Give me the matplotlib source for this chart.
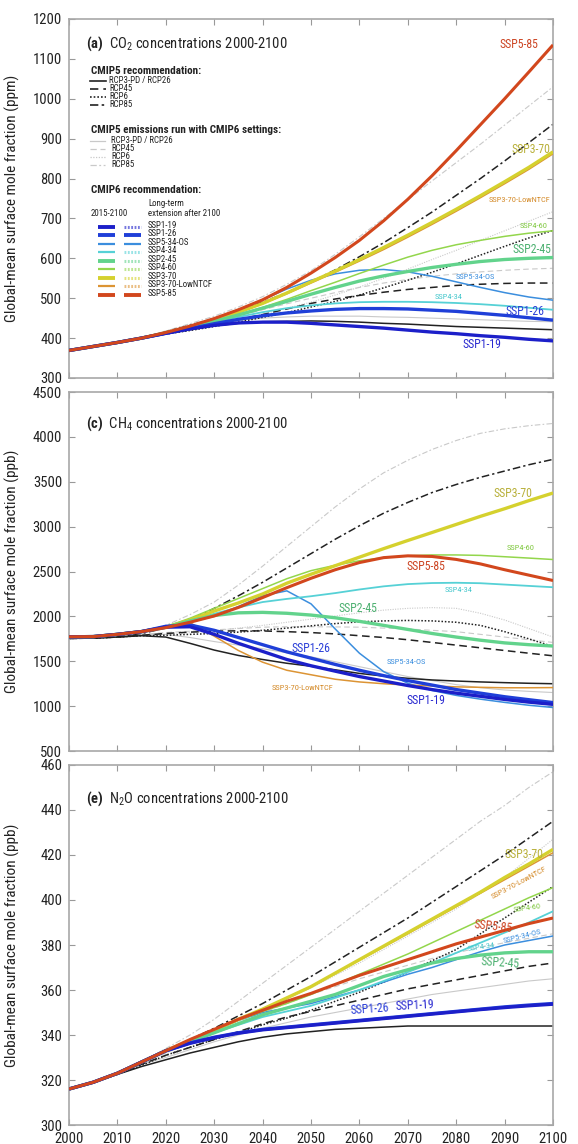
import os

import matplotlib
matplotlib.use("Agg")
from matplotlib import pyplot as plt
from matplotlib import font_manager
from matplotlib.lines import Line2D

# ---------------------------------------------------------------- data
years = [2000, 2005, 2010, 2015, 2020, 2025, 2030, 2035, 2040, 2045, 2050,
         2055, 2060, 2065, 2070, 2075, 2080, 2085, 2090, 2095, 2100]

# CO2 (ppm)
co2_ssp119 = [369, 379, 389, 400, 412, 423, 432, 438, 440, 440, 437, 433, 429, 425, 420, 415, 411, 406, 402, 397, 393]
co2_ssp126 = [369, 379, 389, 400, 412, 424, 436, 447, 456, 463, 468, 472, 474, 474, 473, 470, 467, 462, 457, 451, 445]
co2_ssp534 = [369, 379, 389, 400, 414, 430, 449, 471, 496, 523, 545, 561, 570, 572, 566, 555, 541, 527, 514, 503, 495]
co2_ssp434 = [369, 379, 389, 400, 413, 426, 440, 453, 465, 475, 482, 487, 490, 491, 491, 490, 488, 485, 481, 476, 471]
co2_ssp245 = [369, 379, 389, 400, 413, 427, 442, 458, 475, 492, 510, 527, 543, 556, 567, 577, 585, 592, 597, 600, 602]
co2_ssp460 = [369, 379, 389, 400, 413, 427, 442, 459, 477, 497, 519, 540, 562, 583, 603, 620, 634, 645, 655, 663, 669]
co2_ssp370 = [369, 379, 389, 400, 413, 428, 445, 465, 487, 513, 541, 568, 597, 627, 658, 690, 723, 757, 792, 828, 867]
co2_ssp370low = [369, 379, 389, 400, 413, 428, 445, 464, 486, 511, 538, 565, 593, 622, 653, 685, 718, 752, 787, 823, 862]
co2_ssp585 = [369, 379, 389, 400, 414, 430, 449, 471, 496, 527, 563, 602, 645, 694, 748, 807, 870, 935, 1000, 1067, 1135]
co2_rcp26 = [369, 378, 389, 399, 411, 421, 431, 437, 441, 442, 443, 442, 440, 437, 435, 432, 429, 427, 425, 423, 421]
co2_rcp45 = [369, 378, 389, 400, 412, 423, 435, 447, 459, 473, 487, 498, 507, 515, 522, 527, 532, 535, 537, 538, 538]
co2_rcp60 = [369, 378, 389, 399, 410, 419, 429, 440, 452, 464, 478, 492, 508, 526, 545, 565, 586, 608, 630, 651, 670]
co2_rcp85 = [369, 378, 389, 400, 416, 432, 449, 469, 490, 514, 541, 571, 604, 639, 677, 716, 758, 800, 844, 890, 936]
co2_rcp26g = [369, 378, 389, 400, 412, 424, 435, 444, 450, 453, 455, 455, 455, 453, 452, 450, 448, 446, 444, 442, 441]
co2_rcp45g = [369, 378, 389, 400, 413, 427, 441, 456, 471, 486, 500, 514, 527, 538, 547, 555, 561, 566, 570, 573, 575]
co2_rcp60g = [369, 378, 389, 400, 411, 421, 433, 446, 460, 475, 490, 508, 528, 550, 573, 597, 620, 645, 669, 693, 717]
co2_rcp85g = [369, 378, 389, 400, 418, 436, 455, 478, 504, 535, 569, 610, 654, 700, 747, 794, 840, 886, 934, 982, 1030]

# CH4 (ppb)
ch4_ssp119 = [1773, 1775, 1800, 1831, 1880, 1885, 1800, 1700, 1610, 1520, 1450, 1390, 1330, 1280, 1230, 1185, 1145, 1110, 1075, 1045, 1020]
ch4_ssp126 = [1773, 1775, 1800, 1831, 1890, 1905, 1845, 1765, 1685, 1605, 1535, 1465, 1400, 1340, 1285, 1235, 1185, 1145, 1105, 1072, 1040]
ch4_ssp534 = [1773, 1775, 1800, 1831, 1875, 1935, 2005, 2110, 2230, 2285, 2140, 1860, 1590, 1385, 1255, 1175, 1120, 1078, 1042, 1010, 985]
ch4_ssp434 = [1773, 1775, 1800, 1831, 1880, 1950, 2030, 2100, 2160, 2195, 2225, 2260, 2300, 2335, 2360, 2372, 2375, 2370, 2355, 2340, 2325]
ch4_ssp245 = [1773, 1775, 1800, 1831, 1880, 1950, 2010, 2040, 2045, 2035, 2015, 1985, 1945, 1900, 1855, 1810, 1770, 1735, 1705, 1685, 1670]
ch4_ssp460 = [1773, 1775, 1800, 1831, 1885, 1980, 2090, 2200, 2310, 2420, 2510, 2570, 2620, 2655, 2675, 2685, 2685, 2680, 2665, 2650, 2634]
ch4_ssp370 = [1773, 1775, 1800, 1831, 1880, 1960, 2060, 2150, 2250, 2370, 2470, 2565, 2660, 2755, 2846, 2935, 3025, 3115, 3200, 3290, 3375]
ch4_ssp370low = [1773, 1775, 1800, 1831, 1880, 1930, 1780, 1620, 1490, 1400, 1350, 1300, 1270, 1250, 1235, 1225, 1215, 1210, 1205, 1205, 1207]
ch4_ssp585 = [1773, 1775, 1800, 1831, 1875, 1935, 2005, 2100, 2210, 2320, 2425, 2520, 2600, 2655, 2675, 2668, 2635, 2585, 2520, 2460, 2400]
ch4_rcp26 = [1755, 1758, 1770, 1785, 1770, 1700, 1625, 1565, 1520, 1478, 1445, 1405, 1365, 1335, 1310, 1292, 1280, 1270, 1262, 1255, 1250]
ch4_rcp45 = [1755, 1758, 1770, 1790, 1810, 1825, 1835, 1840, 1838, 1830, 1820, 1805, 1785, 1765, 1740, 1710, 1680, 1650, 1620, 1590, 1561]
ch4_rcp60 = [1755, 1758, 1770, 1785, 1790, 1800, 1810, 1825, 1845, 1870, 1895, 1920, 1940, 1950, 1955, 1950, 1935, 1900, 1830, 1750, 1665]
ch4_rcp85 = [1755, 1758, 1775, 1810, 1870, 1960, 2090, 2230, 2380, 2540, 2700, 2860, 3010, 3150, 3270, 3380, 3470, 3550, 3620, 3690, 3750]
ch4_rcp26g = [1755, 1758, 1775, 1795, 1800, 1765, 1720, 1680, 1640, 1595, 1550, 1495, 1440, 1385, 1330, 1285, 1240, 1205, 1180, 1165, 1152]
ch4_rcp45g = [1755, 1758, 1775, 1800, 1820, 1835, 1850, 1865, 1880, 1885, 1885, 1883, 1880, 1870, 1860, 1845, 1830, 1800, 1770, 1740, 1710]
ch4_rcp60g = [1755, 1758, 1775, 1795, 1800, 1820, 1840, 1870, 1900, 1935, 1970, 2005, 2040, 2070, 2090, 2098, 2090, 2035, 1960, 1865, 1770]
ch4_rcp85g = [1755, 1758, 1780, 1820, 1900, 2020, 2160, 2350, 2560, 2780, 3000, 3220, 3420, 3600, 3740, 3860, 3960, 4040, 4090, 4125, 4150]

# N2O (ppb)
n2o_ssp119 = [316, 319, 323, 328, 333, 336.3, 338.8, 340.8, 342.3, 343.3, 344.3, 345.3, 346.3, 347.3, 348.3, 349.3, 350.3, 351.3, 352.2, 353, 353.7]
n2o_ssp126 = [316, 319, 323, 328, 333, 336.5, 339, 341, 342.5, 343.5, 344.5, 345.5, 346.5, 347.5, 348.5, 349.5, 350.5, 351.5, 352.5, 353.3, 354]
n2o_ssp534 = [316, 319, 323, 328, 333, 337.5, 342, 346.5, 350, 352, 354, 357, 360, 363.5, 367, 370, 373.5, 377, 380, 382, 384]
n2o_ssp434 = [316, 319, 323, 328, 333, 337, 341, 344.5, 348, 350.5, 353, 356.5, 360, 364, 368, 372, 376.5, 381, 385.5, 390, 395]
n2o_ssp245 = [316, 319, 323, 328, 333, 337, 341, 345, 349, 352, 355, 358, 362, 366, 369, 372, 374, 375.5, 376.5, 377, 377]
n2o_ssp460 = [316, 319, 323, 328, 333, 337.5, 342, 346.5, 350.5, 354, 358, 362.5, 367, 371.5, 376, 381, 386, 391, 396, 401, 405.5]
n2o_ssp370 = [316, 319, 323, 328, 333, 337.5, 342, 347, 351.5, 356.5, 361.5, 367.5, 373.5, 379.5, 385.5, 391.5, 397.5, 403.5, 410, 416, 422.5]
n2o_ssp370low = [316, 319, 323, 328, 333, 337.5, 342, 347, 351.5, 356.5, 361.5, 367.3, 373.2, 379.1, 385, 391, 397, 403, 409, 415, 421]
n2o_ssp585 = [316, 319, 323, 328, 333, 338, 342.5, 347, 351, 355, 358.5, 362.5, 366.5, 370, 373.5, 377, 380.5, 383.5, 386.5, 389.5, 392]
n2o_rcp26 = [316, 319, 322.5, 326, 329, 332, 334.5, 337, 339, 340.5, 341.5, 342.5, 343, 343.5, 344, 344, 344, 344, 344, 344, 344]
n2o_rcp45 = [316, 319, 322.5, 327, 331, 334.5, 338, 341.5, 345, 348, 350.5, 353, 355.5, 358, 360.5, 362.5, 364.5, 366.5, 368.5, 370.5, 372]
n2o_rcp60 = [316, 319, 322.5, 326.5, 331, 334.5, 338, 341, 344.5, 347.5, 351, 355, 359, 363.5, 368, 373, 378, 385, 392, 399, 406]
n2o_rcp85 = [316, 319, 323, 327.5, 333, 338, 343, 348.5, 354, 360, 366, 372.5, 379, 385.5, 392, 399, 406, 413, 420, 427.5, 435]
n2o_rcp26g = [316, 319, 323, 327, 330, 333.5, 337, 340, 343, 345.5, 348, 350, 352, 354, 356, 358, 359.5, 361, 362.5, 364, 365]
n2o_rcp45g = [316, 319, 323, 327.5, 332, 336.5, 341, 345.5, 350, 354, 358, 361.5, 365, 368, 371, 374, 376.5, 379, 381, 383, 385]
n2o_rcp60g = [316, 319, 323, 327.5, 332, 336.5, 341, 346, 351, 356, 361, 366.5, 372, 378, 384, 390, 396, 403, 410, 418.5, 427]
n2o_rcp85g = [316, 319, 323, 328, 334, 340, 347, 355, 363, 371, 379, 387, 395, 403, 411, 419, 427, 435, 442, 450, 457]

ssp_names = ["SSP1-19", "SSP1-26", "SSP5-34-OS", "SSP4-34", "SSP2-45",
             "SSP4-60", "SSP3-70", "SSP3-70-LowNTCF", "SSP5-85"]
rcp_names = ["RCP3-PD / RCP26", "RCP45", "RCP6", "RCP85"]


# ---------------------------------------------------------------- font
def pick_narrow_font():
    prefs = ["Liberation Sans Narrow", "Roboto Condensed", "Open Sans Condensed",
             "DejaVu Sans Condensed", "Noto Sans Condensed"]
    fonts = font_manager.fontManager.ttflist
    names = {f.name for f in fonts}
    for n in prefs:
        if n in names:
            return n, "normal"
    for f in fonts:
        fn = os.path.basename(f.fname).lower()
        if ("condensed" in fn or "narrow" in fn) and "serif" not in fn \
                and "mono" not in fn and "semi" not in fn and "extra" not in fn \
                and f.style == "normal" and f.weight in (400, "normal", "regular"):
            return f.name, f.stretch
    return None, None


font, stretch = pick_narrow_font()
scale = 1.0
if font is None:
    font, stretch, scale = "Liberation Sans", "normal", 0.86
plt.rcParams["font.family"] = font
plt.rcParams["font.stretch"] = stretch
plt.rcParams["mathtext.fontset"] = "custom"
plt.rcParams["mathtext.rm"] = font
plt.rcParams["mathtext.bf"] = font + ":bold"


def fs(v):
    return v * scale


# ---------------------------------------------------------------- styles
ssp_style = {
    "SSP1-19": ("#1c1fc9", 2.4),
    "SSP1-26": ("#1f3fd8", 2.4),
    "SSP5-34-OS": ("#3b8ede", 1.1),
    "SSP4-34": ("#56d1d6", 1.3),
    "SSP2-45": ("#62d38c", 2.4),
    "SSP4-60": ("#93d64c", 1.1),
    "SSP3-70": ("#d5d12e", 2.4),
    "SSP3-70-LowNTCF": ("#dc9434", 1.1),
    "SSP5-85": ("#d2471d", 2.2),
}
label_color = {
    "SSP1-19": "#2a2ad0", "SSP1-26": "#2a3ed8", "SSP5-34-OS": "#3b8ede",
    "SSP4-34": "#45c7cc", "SSP2-45": "#4cb070", "SSP4-60": "#80c840",
    "SSP3-70": "#b8b03a", "SSP3-70-LowNTCF": "#d48a28", "SSP5-85": "#cc4422",
}
rcp_ls = [
    "-",
    (0, (5, 3)),
    (0, (1, 1.2)),
    (0, (5, 2, 1.5, 2)),
]
draw_order = ["SSP5-34-OS", "SSP4-34", "SSP4-60", "SSP3-70-LowNTCF", "SSP3-70",
              "SSP2-45", "SSP1-26", "SSP1-19", "SSP5-85"]

big = 8.5
small = 6.0
panels = [
    {
        "ssp": [co2_ssp119, co2_ssp126, co2_ssp534, co2_ssp434, co2_ssp245,
                co2_ssp460, co2_ssp370, co2_ssp370low, co2_ssp585],
        "rcp": [co2_rcp26, co2_rcp45, co2_rcp60, co2_rcp85],
        "rcpg": [co2_rcp26g, co2_rcp45g, co2_rcp60g, co2_rcp85g],
        "ylim": (300, 1200), "yticks": range(300, 1201, 100),
        "unit": "ppm", "rect": [0.1194, 0.6696, 0.8374, 0.3138],
        "title": r"$\mathbf{(a)}$  CO$_2$ concentrations 2000-2100", "title_y": 0.932,
        "labels": {
            "SSP5-85": (2089.0, 1137, big, 0), "SSP3-70": (2091.4, 872, big, 0),
            "SSP3-70-LowNTCF": (2086.6, 745, small, 0), "SSP4-60": (2093.2, 680, small, 0),
            "SSP2-45": (2091.6, 621, big, 0), "SSP5-34-OS": (2079.8, 553, small, 0),
            "SSP4-34": (2075.6, 504, small, 0), "SSP1-26": (2090.1, 466, big, 0),
            "SSP1-19": (2081.2, 383, big, 0),
        },
    },
    {
        "ssp": [ch4_ssp119, ch4_ssp126, ch4_ssp534, ch4_ssp434, ch4_ssp245,
                ch4_ssp460, ch4_ssp370, ch4_ssp370low, ch4_ssp585],
        "rcp": [ch4_rcp26, ch4_rcp45, ch4_rcp60, ch4_rcp85],
        "rcpg": [ch4_rcp26g, ch4_rcp45g, ch4_rcp60g, ch4_rcp85g],
        "ylim": (500, 4500), "yticks": range(500, 4501, 500),
        "unit": "ppb", "rect": [0.1194, 0.3435, 0.8374, 0.3138],
        "title": r"$\mathbf{(c)}$  CH$_4$ concentrations 2000-2100", "title_y": 0.913,
        "labels": {
            "SSP3-70": (2087.6, 3375, big, 0), "SSP4-60": (2090.5, 2760, small, 0),
            "SSP5-85": (2069.8, 2556, big, 0), "SSP4-34": (2077.7, 2299, small, 0),
            "SSP2-45": (2055.6, 2086, big, 0), "SSP1-26": (2045.9, 1647, big, 0),
            "SSP5-34-OS": (2065.7, 1487, small, 0), "SSP1-19": (2069.8, 1058, big, 0),
            "SSP3-70-LowNTCF": (2041.8, 1207, small, 0),
        },
    },
    {
        "ssp": [n2o_ssp119, n2o_ssp126, n2o_ssp534, n2o_ssp434, n2o_ssp245,
                n2o_ssp460, n2o_ssp370, n2o_ssp370low, n2o_ssp585],
        "rcp": [n2o_rcp26, n2o_rcp45, n2o_rcp60, n2o_rcp85],
        "rcpg": [n2o_rcp26g, n2o_rcp45g, n2o_rcp60g, n2o_rcp85g],
        "ylim": (300, 460), "yticks": range(300, 461, 20),
        "unit": "ppb", "rect": [0.1194, 0.0166, 0.8374, 0.3147],
        "title": r"$\mathbf{(e)}$  N$_2$O concentrations 2000-2100", "title_y": 0.907,
        "labels": {
            "SSP3-70": (2089.9, 420, big, 0), "SSP3-70-LowNTCF": (2093.0, 407.7, small, 28),
            "SSP4-60": (2091.7, 396.6, small, 8), "SSP5-85": (2083.5, 388.4, big, -6),
            "SSP5-34-OS": (2089.5, 383.7, small, 14), "SSP4-34": (2082.2, 379, small, 8),
            "SSP2-45": (2084.9, 372, big, -4), "SSP1-26": (2058.1, 351.6, big, 4),
            "SSP1-19": (2067.3, 353.3, big, 3),
        },
    },
]

fig = plt.figure(figsize=(5.78, 11.44), dpi=100)
axes = []
for i, p in enumerate(panels):
    ax = fig.add_axes(p["rect"])
    axes.append(ax)
    for vals, ls in zip(p["rcpg"], rcp_ls):
        ax.plot(years, vals, color="#c9c9c9", lw=0.8, ls=ls, zorder=1)
    for vals, ls in zip(p["rcp"], rcp_ls):
        ax.plot(years, vals, color="#222222", lw=1.1, ls=ls, zorder=2)
    for name in draw_order:
        vals = p["ssp"][ssp_names.index(name)]
        c, lw = ssp_style[name]
        ax.plot(years, vals, color=c, lw=lw, zorder=3, solid_capstyle="butt")
    for name, (x, y, size, rot) in p["labels"].items():
        ha = "center" if rot >= 20 else "left"
        ax.text(x, y, name, color=label_color[name], fontsize=fs(size), rotation=rot,
                ha=ha, va="center", zorder=5)
    ax.set_xlim(2000, 2100)
    ax.set_ylim(*p["ylim"])
    ax.set_xticks(range(2000, 2101, 10))
    ax.set_yticks(list(p["yticks"]))
    ax.tick_params(direction="in", top=True, right=True, length=4, width=0.8,
                   color="#999999", labelsize=fs(10.5), pad=5, labelcolor="#222222")
    if i < 2:
        ax.tick_params(labelbottom=False)
    for s in ax.spines.values():
        s.set_color("#a8a8a8")
        s.set_linewidth(1.2)
    ax.set_ylabel("Global-mean surface mole fraction (%s)" % p["unit"], fontsize=fs(11),
                  color="#222222")
    ax.yaxis.set_label_coords(-0.101, 0.5)
    ax.text(0.035, p["title_y"], p["title"], transform=ax.transAxes, fontsize=fs(10.5),
            va="center", ha="left", color="#222222")

# ---------------------------------------------------------------- legend (panel a)
ax = axes[0]


def pos(px, py):
    # figure pixel -> axes fraction of panel (a)
    return (px - 69) / 484.0, (378 - py) / 359.0


def seg(x0, x1, py, **kw):
    a = pos(x0, py)
    b = pos(x1, py)
    ax.add_line(Line2D([a[0], b[0]], [a[1], b[1]], transform=ax.transAxes,
                       clip_on=False, **kw))


def txt(px, py, s, size, **kw):
    x, y = pos(px, py)
    ax.text(x, y, s, transform=ax.transAxes, va="center", ha="left",
            color="#222222", fontsize=fs(size), **kw)


leg = 6.4
txt(91, 71, "CMIP5 recommendation:", 8, fontweight="bold")
for name, ls, py in zip(rcp_names, rcp_ls, [81, 89, 97.5, 105.5]):
    seg(90, 106, py, color="#222222", lw=1.2, ls=ls)
    txt(109, py - 0.5, name, leg)

txt(91, 130, "CMIP5 emissions run with CMIP6 settings:", 8, fontweight="bold")
for name, ls, py in zip(rcp_names, rcp_ls, [141.5, 149.5, 157.5, 165.5]):
    seg(90, 105, py, color="#c9c9c9", lw=0.9, ls=ls)
    txt(111, py - 0.5, name, leg)

txt(91, 190.5, "CMIP6 recommendation:", 8, fontweight="bold")
txt(148, 204, "Long-term", leg)
txt(148, 214, "extension after 2100", leg)
txt(91, 214, "2015-2100", leg)
longterm_solid = {"SSP1-26", "SSP5-34-OS", "SSP5-85"}
row_y = [227, 235.5, 244, 252.5, 261, 269.5, 278, 286.5, 295]
for name, py in zip(ssp_names, row_y):
    c, lw = ssp_style[name]
    lw_leg = 1.6 if lw < 2 else 2.8
    seg(98, 115, py, color=c, lw=lw_leg, solid_capstyle="butt")
    if name in longterm_solid:
        seg(124, 141, py, color=c, lw=lw_leg, solid_capstyle="butt")
    else:
        seg(124, 141, py, color=c, lw=2.2, alpha=0.6, ls=(0, (0.6, 0.5)))
    txt(148, py - 1.5, name, leg)

fig.savefig("out.png", dpi=100)
